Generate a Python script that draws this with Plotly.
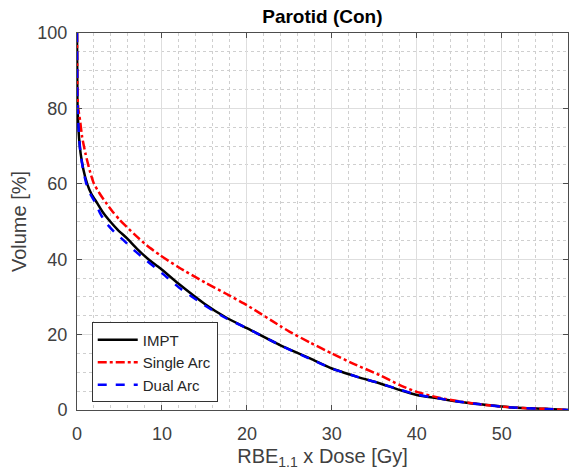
import plotly.graph_objects as go

impt_dose = [0, 0.05, 0.12, 0.25, 0.43, 0.75, 1.2, 1.7, 2.4, 3.0, 3.76, 4.8, 5.9, 7.1, 8.4, 9.8, 12, 15, 17.5, 20,
             23.9, 25, 27.5, 30, 33, 35.6, 38, 40, 42.5, 45, 47.5, 50, 52.5, 55, 57.8]
impt_vol = [100, 82, 77, 72, 68, 63.8, 60, 57.3, 54.8, 52.6, 50.4, 47.8, 45.5, 42.7, 40, 37.6, 33.4, 28.2, 24.6, 21.7,
            17.2, 16.1, 13.6, 11, 8.8, 7.1, 5.3, 4.0, 3.1, 2.2, 1.5, 0.9, 0.5, 0.3, 0]

single_dose = [0, 0.05, 0.15, 0.35, 0.6, 1.0, 1.5, 2.0, 2.7, 3.4, 4.2, 5.0, 6.8, 8.2, 9.76, 12, 15, 17.5, 20,
               23.9, 25, 27.5, 30, 32.5, 35.6, 38, 40, 42.5, 45, 47.5, 50, 52.5, 55, 57.8]
single_vol = [100, 84, 80, 77, 72.5, 68, 63.5, 60, 57.3, 55, 52.6, 50.5, 46.5, 43.7, 41.1, 37.8, 33.9, 30.9, 27.8,
              22.3, 20.8, 17.8, 15, 12.3, 9.3, 6.6, 4.8, 3.3, 2.3, 1.5, 0.9, 0.5, 0.3, 0]

dual_dose = [0, 0.05, 0.12, 0.25, 0.4, 0.7, 1.1, 1.6, 2.2, 2.7, 3.3, 4.4, 5.5, 6.7, 8.0, 10, 12, 15, 17.5, 20,
             23.9, 27.5, 30, 33, 35.6, 38, 40, 42.5, 45, 47.5, 50, 52.5, 55, 57.8]
dual_vol = [100, 83, 78, 72.5, 68.5, 64, 60, 57.2, 54.8, 52.3, 50, 47.2, 45, 42.4, 40, 36.3, 32.5, 27.8, 24.4, 21.7,
            17.2, 13.5, 11, 8.8, 7.1, 5.4, 4.1, 3.1, 2.2, 1.5, 0.9, 0.5, 0.3, 0]

series_names = ["IMPT", "Single Arc", "Dual Arc"]
title_text = "Parotid (Con)"
x_title = "RBE<sub>1.1</sub> x Dose [Gy]"
y_title = "Volume [%]"

FONT = "Liberation Sans, Arial"

fig = go.Figure()
fig.add_trace(go.Scatter(x=impt_dose, y=impt_vol, mode="lines", name=series_names[0],
                         line=dict(color="black", width=2.5, shape="spline", smoothing=0.6)))
fig.add_trace(go.Scatter(x=single_dose, y=single_vol, mode="lines", name=series_names[1],
                         line=dict(color="#ff0000", width=2.5, dash="dashdot", shape="spline", smoothing=0.6)))
fig.add_trace(go.Scatter(x=dual_dose, y=dual_vol, mode="lines", name=series_names[2],
                         line=dict(color="#0000ff", width=2.5, dash="dash", shape="spline", smoothing=0.6)))

axis_common = dict(
    showline=True, linecolor="#4d4d4d", linewidth=1, mirror="ticks",
    ticks="inside", ticklen=5, tickcolor="#4d4d4d",
    showgrid=True, gridcolor="#dedede", gridwidth=1,
    zeroline=False, automargin=False,
    tickfont=dict(family=FONT, size=18, color="#404040"),
)

fig.update_xaxes(range=[0, 57.8], dtick=10, tick0=0, ticklabelstandoff=7,
                 minor=dict(dtick=2, showgrid=True, gridcolor="#cfcfcf", griddash="dot", ticks=""),
                 title=dict(text=x_title, standoff=8,
                            font=dict(family=FONT, size=20, color="#404040")),
                 **axis_common)
fig.update_yaxes(range=[0, 100], dtick=20, tick0=0, ticklabelstandoff=5,
                 minor=dict(dtick=5, showgrid=True, gridcolor="#cfcfcf", griddash="dot", ticks=""),
                 title=dict(text=y_title, standoff=5,
                            font=dict(family=FONT, size=20, color="#404040")),
                 **axis_common)

fig.update_layout(
    width=571, height=470,
    margin=dict(l=77, r=3, t=33, b=60),
    paper_bgcolor="white", plot_bgcolor="white",
    title=dict(text="<b>" + title_text + "</b>", x=0.5646, xanchor="center", y=0.965, yanchor="middle",
               font=dict(family=FONT, size=19, color="black")),
    legend=dict(x=0.03, y=0.02, xanchor="left", yanchor="bottom",
                bgcolor="white", bordercolor="#333333", borderwidth=1,
                font=dict(family=FONT, size=15, color="#262626"),
                tracegroupgap=0, itemwidth=40),
    showlegend=True,
)

fig.write_html("out.html")
